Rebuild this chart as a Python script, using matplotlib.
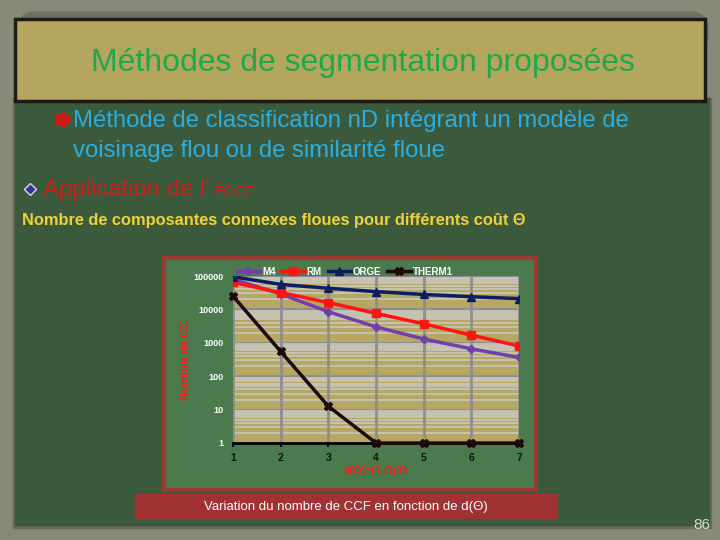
import numpy as np
import matplotlib.pyplot as plt
from matplotlib.patches import Rectangle, Polygon, FancyBboxPatch

plt.rcParams['font.family'] = ['Liberation Sans', 'DejaVu Sans']

# data
d_theta = [1, 2, 3, 4, 5, 6, 7]
m4 = [80000, 29000, 8500, 3000, 1300, 660, 365]
rm = [64000, 32000, 16000, 7600, 3700, 1700, 800]
orge = [95000, 56000, 43000, 34000, 28000, 24000, 21000]
therm1 = [25000, 550, 12.6, 1, 1, 1, 1]
yticks = [1, 10, 100, 1000, 10000, 100000]
ytick_labels = ['1', '10', '100', '1000', '10000', '100000']

fig = plt.figure(figsize=(7.2, 5.4), dpi=100)

# slide background, drawn in pixel coordinates
bg = fig.add_axes([0, 0, 1, 1])
bg.set_xlim(0, 720)
bg.set_ylim(540, 0)
bg.axis('off')
bg.add_patch(Rectangle((0, 0), 720, 540, color='#878a77', zorder=0))
bg.add_patch(FancyBboxPatch((18, 12), 690, 40, boxstyle='round,pad=0,rounding_size=18',
                            color='#6e7064', zorder=1))
bg.add_patch(Rectangle((13, 98), 698, 430, color='#686a5e', zorder=1))
bg.add_patch(Rectangle((15, 98), 694, 427, color='#3b5a3c', zorder=2))
bg.add_patch(Rectangle((15, 19), 690, 82, facecolor='#b4a55f', edgecolor='#1c1a14',
                       lw=2.5, zorder=3))

bg.text(363, 63, 'Méthodes de segmentation proposées', color='#1fa848', fontsize=23,
        ha='center', va='center', zorder=4)

bg.add_patch(Polygon([(56, 115), (63, 115), (63, 112), (71, 120), (63, 128), (63, 125),
                      (56, 125)], color='#d01818', zorder=4))
bg.text(73, 121, 'Méthode de classification nD intégrant un modèle de', color='#2eaee0',
        fontsize=17.2, ha='left', va='center', zorder=4)
bg.text(73, 151, 'voisinage flou ou de similarité floue', color='#2eaee0',
        fontsize=17.2, ha='left', va='center', zorder=4)

bg.plot([30], [189], marker='D', ms=6, color='#3a2e9a', mec='#d8d8e8', mew=1, zorder=4)
bg.text(43, 190, "Application de l'", color='#d01c1c', fontsize=17.2, ha='left',
        va='center', zorder=4)
bg.text(214, 192, 'ECCF', color='#d01c1c', fontsize=11, ha='left', va='center', zorder=4)

bg.text(22, 220, 'Nombre de composantes connexes floues pour différents coût Θ',
        color='#f0d038', fontsize=11.8, ha='left', va='center', zorder=4,
        weight='bold')

# chart box and caption
bg.add_patch(Rectangle((164, 258), 372, 232, facecolor='#4b7a4c', edgecolor='#9c3a30',
                       lw=3, zorder=3))
bg.add_patch(Rectangle((135, 494), 422, 24, color='#a03234', zorder=3))
bg.text(346, 507, 'Variation du nombre de CCF en fonction de d(Θ)', color='white',
        fontsize=9.5, ha='center', va='center', zorder=4)
bg.text(702, 525, '86', color='#d8dccc', fontsize=11, ha='center', va='center', zorder=4)

# the chart itself
ax = fig.add_axes([233 / 720, 1 - 443 / 540, 286 / 720, 167 / 540])
ax.set_facecolor('#b6a762')
ax.set_yscale('log')
ax.set_xlim(1, 7)
ax.set_ylim(1, 100000)
ax.set_axisbelow(True)
ax.yaxis.grid(True, which='minor', color='#cac8c0', lw=1.2)
ax.yaxis.grid(True, which='major', color='#8e8e8e', lw=2)
for xv in d_theta:
    ax.axvline(xv, color='#8e8e8e', lw=2, zorder=1)

ax.plot(d_theta, m4, color='#7040a8', lw=2.5, marker='D', ms=4.5, label='M4', zorder=3)
ax.plot(d_theta, rm, color='#ff1414', lw=2.5, marker='s', ms=6, label='RM', zorder=3)
ax.plot(d_theta, orge, color='#0c1e5e', lw=2.5, marker='^', ms=6, label='ORGE', zorder=3)
ax.plot(d_theta, therm1, color='#1e0a0a', lw=2.5, marker='X', ms=6, label='THERM1',
        clip_on=False, zorder=4)

for s in ['top', 'right', 'left']:
    ax.spines[s].set_visible(False)
ax.spines['bottom'].set_color('black')
ax.spines['bottom'].set_linewidth(2)

ax.set_xticks(d_theta)
ax.set_xticklabels([str(v) for v in d_theta], fontsize=7.5, weight='bold', color='#101010')
ax.set_yticks(yticks)
ax.set_yticklabels(ytick_labels, fontsize=6.5, weight='bold', color='white')
ax.tick_params(axis='y', which='both', length=0, pad=7)
ax.tick_params(axis='x', length=3, width=1.5, pad=4)

ax.set_xlabel('d(Θ)=(1-Θ)/Θ', color='#ff1a1a', fontsize=7.7, weight='bold', labelpad=2)
ax.set_ylabel('Nombre de CC', color='#ff1a1a', fontsize=8.3, weight='bold', labelpad=1)

leg = ax.legend(ncol=4, loc='center', bbox_to_anchor=(0.39, 1.025), frameon=False,
                fontsize=7, handlelength=2.4, columnspacing=0.6, handletextpad=0.2,
                borderaxespad=0)
for t in leg.get_texts():
    t.set_color('white')
    t.set_weight('bold')

fig.savefig('out.png', dpi=100)
